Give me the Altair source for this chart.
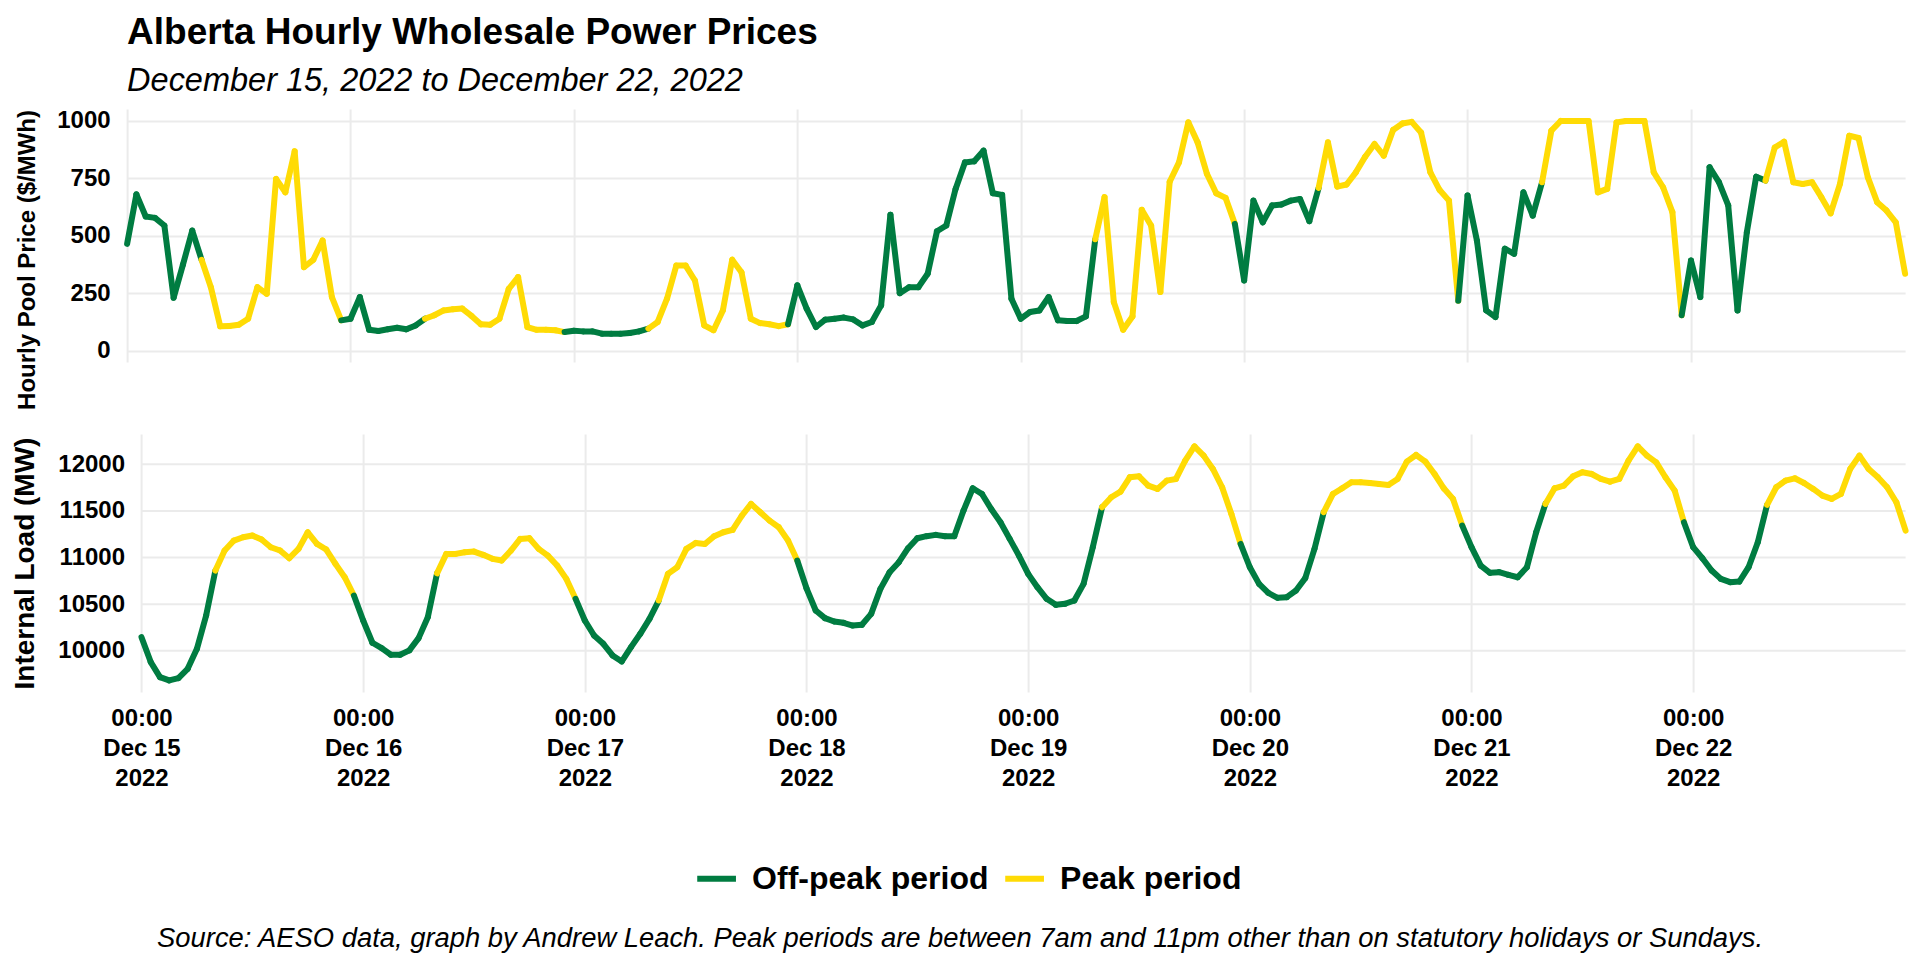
import altair as alt
import pandas as pd

# ---- data (hourly, Dec 15 00:00 .. Dec 22 23:00) ----
start_time = "2022-12-15 00:00"

price = [
    465, 680, 584, 578, 545, 231, 375, 523, 396, 277, 107, 108, 114, 140, 277, 248, 747, 689, 867, 364, 396, 480, 234, 133,
    140, 234, 92, 87, 94, 101, 94, 111, 140, 155, 176, 181, 184, 152, 116, 114, 140, 270, 321, 104, 92, 92, 90, 82,
    88, 85, 85, 75, 75, 75, 78, 85, 97, 126, 227, 371, 371, 306, 111, 90, 176, 396, 342, 140, 121, 116, 108, 116,
    285, 184, 104, 136, 140, 145, 137, 111, 126, 198, 592, 251, 277, 277, 335, 520, 545, 704, 819, 824, 870, 685, 678, 227,
    140, 169, 176, 234, 133, 130, 130, 150, 485, 668, 212, 92, 150, 613, 545, 256, 735, 819, 993, 906, 769, 685, 665, 552,
    306, 653, 559, 632, 636, 653, 660, 564, 708, 906, 714, 723, 776, 844, 899, 848, 960, 988, 995, 949, 776, 699, 653, 218,
    675, 480, 176, 147, 444, 422, 689, 588, 733, 957, 999, 999, 999, 999, 689, 704, 993, 999, 999, 999, 776, 711, 603, 155,
    393, 234, 798, 733, 632, 176, 516, 757, 740, 884, 909, 733, 725, 733, 668, 598, 725, 935, 925, 754, 646, 610, 559, 335,
]

load = [
    10146, 9879, 9718, 9682, 9707, 9807, 10021, 10379, 10861, 11075, 11182, 11218, 11236, 11193, 11111, 11075, 10993, 11093, 11271, 11146, 11086, 10932, 10789, 10593,
    10325, 10086, 10029, 9957, 9957, 10004, 10136, 10360, 10830, 11039, 11039, 11057, 11064, 11029, 10986, 10968, 11075, 11200, 11207, 11093, 11021, 10914, 10771, 10557,
    10325, 10164, 10075, 9950, 9886, 10039, 10182, 10343, 10539, 10825, 10896, 11093, 11157, 11146, 11229, 11271, 11296, 11450, 11575, 11486, 11396, 11325, 11182, 10968,
    10670, 10432, 10350, 10314, 10300, 10271, 10279, 10396, 10664, 10843, 10950, 11100, 11207, 11229, 11243, 11229, 11229, 11504, 11743, 11682, 11521, 11379, 11200, 11021,
    10825, 10682, 10557, 10493, 10504, 10539, 10718, 11111, 11539, 11646, 11707, 11861, 11871, 11771, 11736, 11825, 11843, 12039, 12193, 12093, 11950, 11754, 11468, 11146,
    10896, 10718, 10621, 10568, 10575, 10646, 10779, 11093, 11486, 11682, 11743, 11807, 11807, 11800, 11789, 11779, 11843, 12029, 12100, 12029, 11896, 11743, 11629, 11343,
    11111, 10914, 10836, 10843, 10814, 10789, 10896, 11271, 11575, 11743, 11771, 11871, 11914, 11896, 11843, 11814, 11843, 12039, 12193, 12093, 12021, 11861, 11718, 11379,
    11111, 10993, 10861, 10771, 10736, 10743, 10896, 11164, 11564, 11754, 11825, 11850, 11800, 11736, 11664, 11629, 11682, 11950, 12093, 11950, 11861, 11754, 11593, 11289,
]

period_names = ["Off-peak period", "Peak period"]
period_colors = ["#007C41", "#FFDB05"]
day_numbers = [15, 16, 17, 18, 19, 20, 21, 22]
price_ticks = [0, 250, 500, 750, 1000]
load_ticks = [10000, 10500, 11000, 11500, 12000]

title_text = "Alberta Hourly Wholesale Power Prices"
subtitle_text = "December 15, 2022 to December 22, 2022"
caption_text = ("Source: AESO data, graph by Andrew Leach. Peak periods are between 7am and 11pm "
                "other than on statutory holidays or Sundays.")

# ---- build segment table (each segment coloured by its starting hour) ----
times = pd.date_range(start_time, periods=len(price), freq="h")
rows = []
for i in range(len(price) - 1):
    ts = times[i]
    peak = ts.dayofweek != 6 and 8 <= ts.hour <= 22
    rows.append({
        "t": ts.strftime("%Y-%m-%dT%H:%M:%S"),
        "t2": times[i + 1].strftime("%Y-%m-%dT%H:%M:%S"),
        "price": price[i], "price2": price[i + 1],
        "load": load[i], "load2": load[i + 1],
        "period": period_names[1] if peak else period_names[0],
    })
df = pd.DataFrame(rows)
grid_df = pd.DataFrame({"v": load_ticks})

FONT = "Liberation Sans"
GRID = "#EBEBEB"
W = 1778
TITLE_X = -87.5

day_ticks = [alt.DateTime(year=2022, month=12, date=d, hours=0) for d in day_numbers]
x_start = alt.DateTime(year=2022, month=12, date=15, hours=0)
x_end = alt.DateTime(year=2022, month=12, date=22, hours=23)

color = alt.Color(
    "period:N",
    scale=alt.Scale(domain=period_names, range=period_colors),
    legend=alt.Legend(
        title=None, orient="none", direction="horizontal",
        legendX=567, legendY=747,
        symbolType="stroke", symbolSize=1500, symbolStrokeWidth=6,
        labelFont=FONT, labelFontSize=32, labelFontWeight="bold", labelColor="black",
        labelOffset=13, columnPadding=4, padding=0, labelLimit=500,
    ),
)

base = alt.Chart(df).mark_rule(strokeWidth=6, strokeCap="round")

top = base.encode(
    x=alt.X("t:T", scale=alt.Scale(domain=[x_start, x_end], nice=False),
            axis=alt.Axis(values=day_ticks, labels=False, ticks=False, domain=False,
                          title=None, grid=True)),
    x2="t2:T",
    y=alt.Y("price:Q", scale=alt.Scale(domain=[-48, 1051], nice=False, zero=False),
            axis=alt.Axis(values=price_ticks, format="d", title="Hourly Pool Price ($/MWh)",
                          labelPadding=17, titleX=TITLE_X, titleY=150.5, titleFontSize=24)),
    y2="price2:Q",
    color=color,
).properties(
    width=W, height=253,
    title=alt.TitleParams(
        text=title_text, subtitle=subtitle_text, anchor="start", frame="group",
        font=FONT, fontSize=37, fontWeight="bold", color="black",
        subtitleFont=FONT, subtitleFontSize=32.5, subtitleFontStyle="italic",
        subtitleFontWeight="normal", subtitleColor="black",
        subtitlePadding=13.2, offset=10.5,
    ),
)

bx = alt.Scale(domain=[x_start, x_end], nice=False, range=[14.4, W + 0.5])

bottom_lines = base.encode(
    x=alt.X("t:T", scale=bx,
            axis=alt.Axis(values=day_ticks, ticks=False, domain=False, title=None, grid=True,
                          labelExpr="[timeFormat(datum.value, '%H:%M'), timeFormat(datum.value, '%b %d'), timeFormat(datum.value, '%Y')]",
                          labelLineHeight=30, labelPadding=15, labelAlign="center")),
    x2="t2:T",
    y=alt.Y("load:Q", scale=alt.Scale(domain=[9558, 12325], nice=False, zero=False),
            axis=alt.Axis(values=load_ticks, format="d", title="Internal Load (MW)",
                          grid=False, labelPadding=2.6, titleX=TITLE_X, titleFontSize=28)),
    y2="load2:Q",
    color=color,
)

bottom_grid = alt.Chart(grid_df).mark_rule(color=GRID, strokeWidth=2).encode(
    y="v:Q",
    x=alt.datum(x_start),
    x2=alt.datum(x_end),
)

bottom = alt.layer(bottom_grid, bottom_lines).properties(width=W, height=258)

chart = alt.vconcat(top, bottom, spacing=24).properties(
    padding={"left": 3.1, "top": 5, "right": 0, "bottom": 0},
    title=alt.TitleParams(
        text=caption_text, orient="bottom", anchor="middle",
        font=FONT, fontSize=27.4, fontStyle="italic", fontWeight="normal", color="black",
        offset=30,
    ),
).configure_view(stroke=None).configure_axis(
    labelFont=FONT, labelFontSize=24, labelFontWeight="bold", labelColor="black",
    titleFont=FONT, titleFontSize=24, titleFontWeight="bold", titleColor="black",
    gridColor=GRID, gridWidth=2, ticks=False, domain=False,
)

chart.save("out.html", embed_options={"renderer": "svg", "actions": False})
